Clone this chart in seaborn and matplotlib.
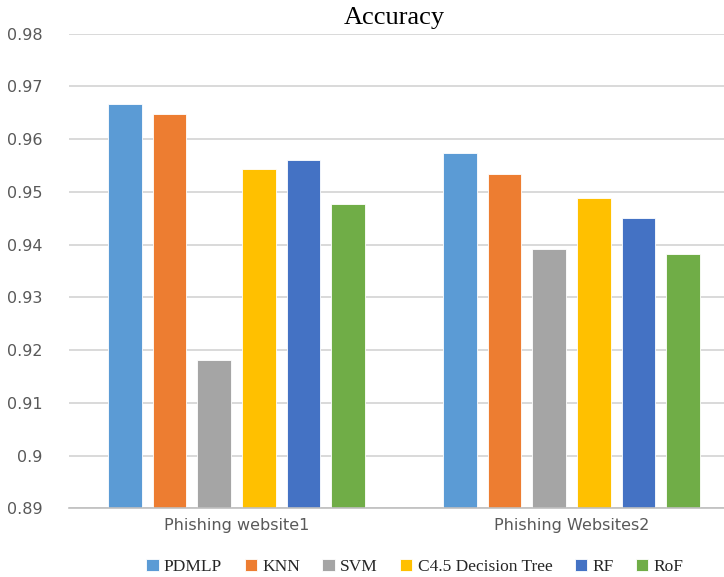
import matplotlib
matplotlib.use("Agg")
import matplotlib.pyplot as plt
import seaborn as sns
import pandas as pd

datasets = ["Phishing website1", "Phishing Websites2"]
models = ["PDMLP", "KNN", "SVM", "C4.5 Decision Tree", "RF", "RoF"]
acc_site1 = [0.9666, 0.9648, 0.9182, 0.9544, 0.9561, 0.9477]
acc_site2 = [0.9574, 0.9533, 0.9391, 0.9489, 0.9450, 0.9382]
colors = ["#5B9BD5", "#ED7D31", "#A5A5A5", "#FFC000", "#4472C4", "#70AD47"]
yticks = [0.89, 0.90, 0.91, 0.92, 0.93, 0.94, 0.95, 0.96, 0.97, 0.98]

rows = []
for m, a1, a2 in zip(models, acc_site1, acc_site2):
    rows.append({"dataset": datasets[0], "model": m, "acc": a1})
    rows.append({"dataset": datasets[1], "model": m, "acc": a2})
df = pd.DataFrame(rows)

sns.set_style("white")
fig = plt.figure(figsize=(7.24, 5.77), dpi=100)
W, H = 724, 577
ax = fig.add_axes([69 / W, 1 - 508.3 / H, (724 - 69) / W, (508.3 - 33.7) / H])

sns.barplot(data=df, x="dataset", y="acc", hue="model", order=datasets,
            hue_order=models, palette=colors, saturation=1, width=0.8, gap=0.25,
            edgecolor="white", linewidth=0.6, ax=ax, legend=True)

ax.set_ylim(0.89, 0.98)
ax.set_xlim(-0.5, 1.5 - 15 / 335)
ax.set_yticks(yticks)
ax.set_yticklabels([f"{v:g}" for v in yticks])
ax.yaxis.grid(True, color="#D9D9D9", linewidth=1.4)
ax.set_axisbelow(True)
for s in ["top", "right", "left"]:
    ax.spines[s].set_visible(False)
ax.spines["bottom"].set_color("#BFBFBF")
ax.spines["bottom"].set_linewidth(1.2)
ax.set_xlabel("")
ax.set_ylabel("")
ax.tick_params(axis="y", length=0, pad=19, labelsize=11.5, labelcolor="#595959")
ax.tick_params(axis="x", which="major", length=0, pad=7, labelsize=11.5, labelcolor="#595959")
ax.set_xticks([0.5], minor=True)
ax.tick_params(axis="x", which="minor", length=7, width=1.2, color="#BFBFBF")

handles, labels = ax.get_legend_handles_labels()
ax.get_legend().remove()
fig.legend(handles, labels, loc="center", bbox_to_anchor=(415 / W, 10 / H),
           ncol=6, frameon=False, handlelength=0.7, handleheight=0.7,
           handletextpad=0.3, columnspacing=1.3,
           prop={"family": "Liberation Serif", "size": 12.5})

fig.text(394 / W, 1 - 18 / H, "Accuracy", family="Liberation Serif",
         size=19, ha="center", va="center", color="black")

fig.savefig("out.png", dpi=100)
